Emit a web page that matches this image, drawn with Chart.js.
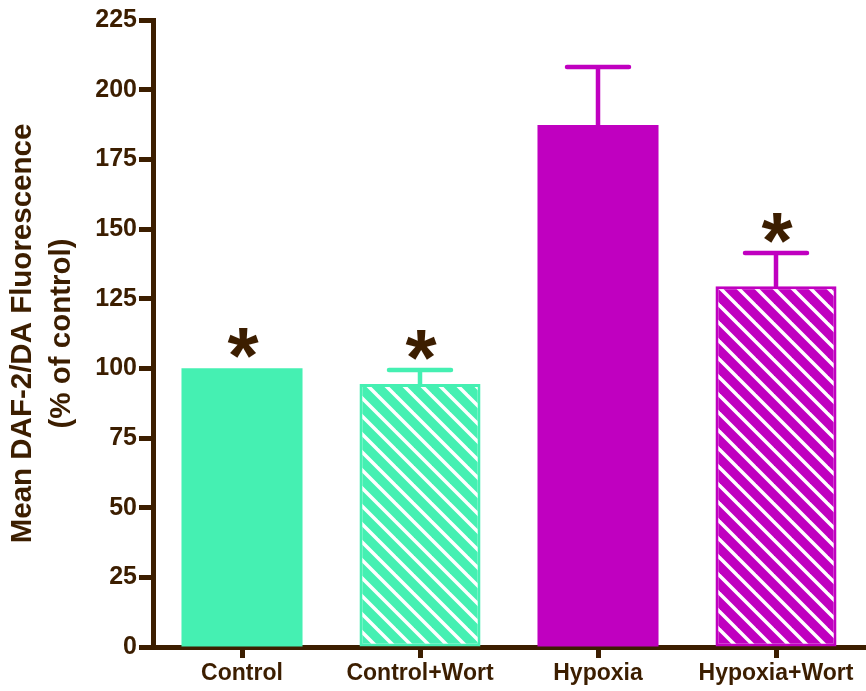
<!DOCTYPE html>
<html>
<head>
<meta charset="utf-8">
<script src="https://cdn.jsdelivr.net/npm/chart.js@4/dist/chart.umd.min.js"></script>
<style>
    html, body { margin: 0; padding: 0; background: #ffffff; }
    #wrap { width: 866px; height: 691px; }
</style>
</head>
<body>
<div id="wrap"><canvas id="dafChart" width="866" height="691"></canvas></div>
<script>
    // Data
    const groups = ['Control', 'Control+Wort', 'Hypoxia', 'Hypoxia+Wort'];
    const means = [100, 94.4, 187.3, 129.5];
    const sems = [0, 5, 20.8, 11.9];
    const starred = [true, true, false, true];
    const yTicks = [0, 25, 50, 75, 100, 125, 150, 175, 200, 225];

    const green = '#45F0B2';
    const magenta = '#C000C0';
    const brown = '#3C1E00';
    const fontFamily = "'Liberation Sans', Arial, Helvetica, sans-serif";

    // Diagonal white stripes for the Wort bars
    function stripes(color) {
        const size = 18;
        const c = document.createElement('canvas');
        c.width = size;
        c.height = size;
        const g = c.getContext('2d');
        g.fillStyle = color;
        g.fillRect(0, 0, size, size);
        g.strokeStyle = '#ffffff';
        g.lineWidth = 3.5;
        [-size, 0, size].forEach(off => {
            g.beginPath();
            g.moveTo(off - 2, -2);
            g.lineTo(off + size + 2, size + 2);
            g.stroke();
        });
        return g.createPattern(c, 'repeat');
    }

    const solidColors = [green, green, magenta, magenta];
    const fills = [green, stripes(green), magenta, stripes(magenta)];
    const borders = [0, 3, 0, 3];

    // Error bars (upper only) and significance stars
    const errorBars = {
        id: 'errorBars',
        afterDatasetsDraw(chart) {
            const ctx = chart.ctx;
            const y = chart.scales.y;
            const meta = chart.getDatasetMeta(0);
            ctx.save();
            meta.data.forEach((bar, i) => {
                const top = y.getPixelForValue(means[i] + sems[i]);
                if (sems[i] > 0) {
                    ctx.strokeStyle = solidColors[i];
                    ctx.lineWidth = 4.5;
                    ctx.lineCap = 'round';
                    ctx.beginPath();
                    ctx.moveTo(bar.x, bar.y);
                    ctx.lineTo(bar.x, top);
                    ctx.moveTo(bar.x - 31, top);
                    ctx.lineTo(bar.x + 31, top);
                    ctx.stroke();
                }
                if (starred[i]) {
                    ctx.fillStyle = brown;
                    ctx.font = 'bold 80px ' + fontFamily;
                    ctx.textAlign = 'center';
                    ctx.textBaseline = 'alphabetic';
                    const m = ctx.measureText('*');
                    const bottom = top - 10;
                    ctx.fillText('*', bar.x + 1, bottom - m.actualBoundingBoxDescent);
                }
            });
            ctx.restore();
        }
    };

    const ctx = document.getElementById('dafChart').getContext('2d');
    new Chart(ctx, {
        type: 'bar',
        data: {
            labels: groups,
            datasets: [{
                data: means,
                backgroundColor: fills,
                borderColor: solidColors,
                borderWidth: borders,
                borderSkipped: false,
                categoryPercentage: 1,
                barPercentage: 0.68
            }]
        },
        options: {
            responsive: false,
            animation: false,
            devicePixelRatio: 1,
            layout: { padding: { top: 20, right: 1, left: 0, bottom: 0 } },
            plugins: {
                legend: { display: false },
                tooltip: { enabled: false }
            },
            scales: {
                x: {
                    afterFit(scale) { scale.height = 44; },
                    grid: {
                        offset: false,
                        drawOnChartArea: false,
                        tickLength: 11,
                        tickWidth: 5,
                        tickColor: brown
                    },
                    border: { display: true, width: 5, color: brown },
                    ticks: {
                        color: brown,
                        padding: 2,
                        maxRotation: 0,
                        font: { family: fontFamily, size: 23, weight: 'bold' }
                    }
                },
                y: {
                    min: 0,
                    max: 225,
                    afterFit(scale) { scale.width = 153; },
                    afterBuildTicks(scale) {
                        scale.ticks = yTicks.map(v => ({ value: v }));
                    },
                    grid: {
                        drawOnChartArea: false,
                        tickLength: 14,
                        tickWidth: 5,
                        tickColor: brown
                    },
                    border: { display: true, width: 5, color: brown },
                    ticks: {
                        color: brown,
                        padding: 2,
                        font: { family: fontFamily, size: 25, weight: 'bold' }
                    },
                    title: {
                        display: true,
                        text: ['Mean DAF-2/DA Fluorescence', '(% of control)'],
                        color: brown,
                        padding: { top: 3, bottom: 0 },
                        font: { family: fontFamily, size: 29.5, weight: 'bold', lineHeight: 1.34 }
                    }
                }
            }
        },
        plugins: [errorBars]
    });
</script>
</body>
</html>
